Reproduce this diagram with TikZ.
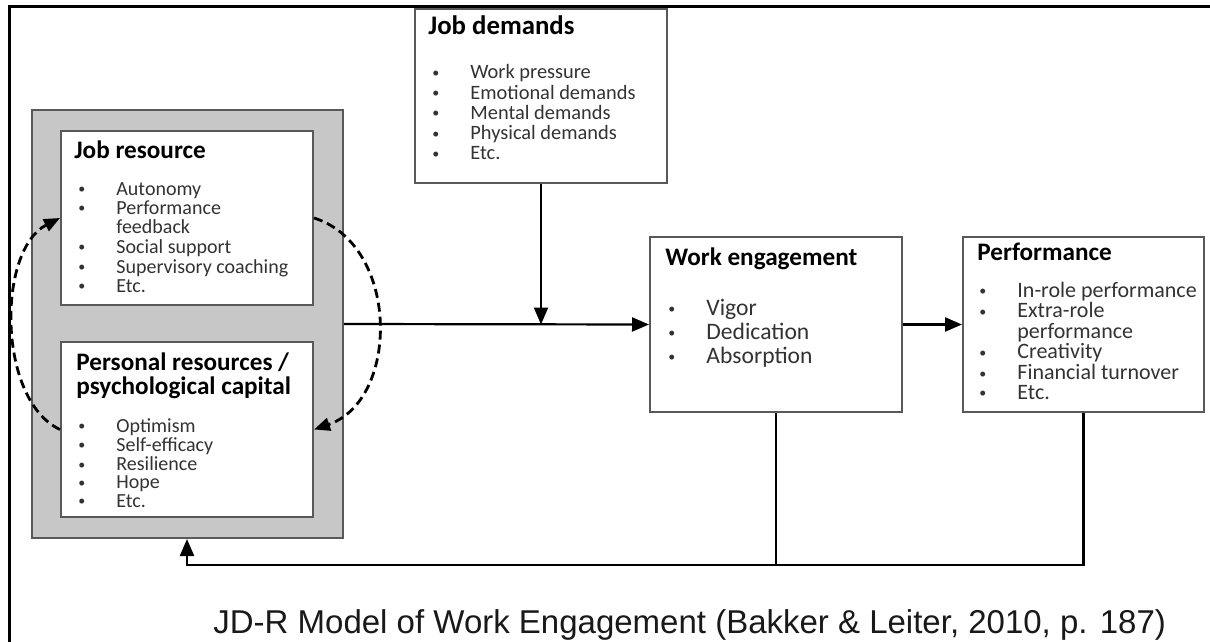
\documentclass[tikz,border=0pt]{standalone}
\usepackage{fontspec}
\setmainfont{Carlito}
\newfontfamily\capfont{Liberation Sans}
\usetikzlibrary{arrows.meta,fit}

% bullet list: small bullet column, then the item text
\newcommand{\bl}{{\fontsize{7}{7}\selectfont\raisebox{0.25ex}{\textbullet}}}
\newcommand{\itemlist}[1]{\begin{tabular}[t]{@{}p{19pt}@{}l@{}}#1\end{tabular}}

\begin{document}
\begin{tikzpicture}[x=0.5pt,y=-0.5pt,
  box/.style={draw=black!65,line width=1pt,fill=white,inner sep=0pt},
  head/.style={anchor=base west,inner sep=0pt,font=\bfseries\fontsize{12.6}{11}\selectfont},
  list/.style={anchor=base west,inner sep=0pt,text=black!80},
  arr/.style={line width=1.1pt,-{Triangle[length=8.5pt,width=7pt]}},
  loop/.style={line width=1.4pt,dash pattern=on 4.5pt off 2.5pt,-{Triangle[length=8pt,width=6.5pt]}}]
\useasboundingbox (0,0) rectangle (1210,642);
\fill[white] (0,0) rectangle (1210,642);
\draw[line width=1.5pt] (9,642) -- (9,7) -- (1210,7);

% boxes
\node[box,fill=black!22,fit={(32,110) (343,538)}] (res) {};
\node[box,fit={(61,131) (313,305)}] (jr) {};
\node[box,fit={(61,342) (313,517)}] (pr) {};
\node[box,fit={(415,9) (667,183)}] (jd) {};
\node[box,fit={(650,237) (902,412)}] (we) {};
\node[box,fit={(963,237) (1204,412)}] (perf) {};

% headings
\node[head,font=\bfseries\fontsize{13.4}{13}\selectfont] (jdhead) at (428,35) {Job demands};
\node[head] (jrhead) at (74,158) {Job resource};
\node[head] (prhead) at (76,370) {\begin{tabular}[t]{@{}l@{}}Personal resources /\\psychological capital\end{tabular}};
\node[head] (wehead) at (665,265) {Work engagement};
\node[head] (perfhead) at (977,260) {Performance};

% item lists
\node[list,font=\fontsize{10.2}{10.1}\selectfont] (jdlist) at (432,79) {\itemlist{
  \bl & Work pressure\\ \bl & Emotional demands\\ \bl & Mental demands\\
  \bl & Physical demands\\ \bl & Etc.}};
\node[list,font=\fontsize{10}{9.5}\selectfont] (jrlist) at (78,195) {\itemlist{
  \bl & Autonomy\\ \bl & Performance\\ & feedback\\ \bl & Social support\\
  \bl & Supervisory coaching\\ \bl & Etc.}};
\node[list,font=\fontsize{10}{9.1}\selectfont] (prlist) at (78,432) {\itemlist{
  \bl & Optimism\\ \bl & Self-efficacy\\ \bl & Resilience\\
  \bl & Hope\\ \bl & Etc.}};
\node[list,font=\fontsize{11.8}{12}\selectfont] (welist) at (668,315) {\itemlist{
  \bl & Vigor\\ \bl & Dedication\\ \bl & Absorption}};
\node[list,font=\fontsize{11}{9.1}\selectfont] (perflist) at (979,297) {\itemlist{
  \bl & In-role performance\\ \bl & Extra-role\\ & performance\\
  \bl & Creativity\\ \bl & Financial turnover\\ \bl & Etc.}};

% arrows
\draw[arr] (res.east) -- (we.west);
\draw[arr] (jd.south) -- (jd.south |- we.west);
\draw[arr] (we.east) -- (perf.west);
\coordinate (fb) at (187,565);
\draw[line width=1.1pt] (we.south) -- (we.south |- fb);
\draw[arr] (perf.south) |- (fb) -- (fb |- res.south);
\draw[loop] (pr.west) .. controls (-3,400) and (-3,250) .. (jr.west);
\draw[loop] (jr.east) .. controls (400,245) and (400,400) .. (pr.east);

\node[anchor=base west,inner sep=0pt,text=black!90,font=\capfont\fontsize{16.5}{18}\selectfont] (cap) at (213,633)
  {JD-R Model of Work Engagement (Bakker \& Leiter, 2010, p. 187)};
\end{tikzpicture}
\end{document}
